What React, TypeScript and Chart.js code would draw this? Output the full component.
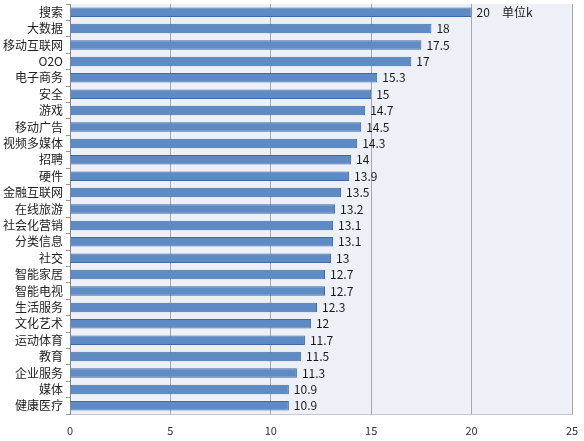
import { useEffect, useRef } from 'react';
import { Chart, registerables } from 'chart.js';

Chart.register(...registerables);

const categories = [
  '搜索', '大数据', '移动互联网', 'O2O', '电子商务', '安全', '游戏', '移动广告', '视频多媒体',
  '招聘', '硬件', '金融互联网', '在线旅游', '社会化营销', '分类信息', '社交', '智能家居',
  '智能电视', '生活服务', '文化艺术', '运动体育', '教育', '企业服务', '媒体', '健康医疗',
];
const values = [
  20, 18, 17.5, 17, 15.3, 15, 14.7, 14.5, 14.3, 14, 13.9, 13.5, 13.2, 13.1, 13.1, 13, 12.7,
  12.7, 12.3, 12, 11.7, 11.5, 11.3, 10.9, 10.9,
];
const xTicks = [0, 5, 10, 15, 20, 25];
const unitNote = '单位k';

const FONT = '"Noto Sans CJK SC", "Noto Sans", sans-serif';

// Light plot background, drawn behind the bars.
const plotBg = {
  id: 'plotBg',
  beforeDraw(chart: Chart) {
    const { ctx, chartArea } = chart;
    ctx.save();
    ctx.fillStyle = '#edf1f7';
    ctx.fillRect(chartArea.left, chartArea.top, chartArea.width, chartArea.height);
    ctx.restore();
  },
};

// Value labels at the end of each bar.
const valueLabels = {
  id: 'valueLabels',
  afterDatasetsDraw(chart: Chart) {
    const { ctx } = chart;
    const meta = chart.getDatasetMeta(0);
    ctx.save();
    ctx.font = `12px ${FONT}`;
    ctx.fillStyle = '#1a1a1a';
    ctx.textBaseline = 'middle';
    meta.data.forEach((bar: any, i: number) => {
      const text = String(values[i]);
      ctx.fillText(text, bar.x + 5, bar.y);
      if (i === 0) {
        const w = ctx.measureText(text).width;
        ctx.fillText(unitNote, bar.x + 5 + w + 12, bar.y);
      }
    });
    ctx.restore();
  },
};

export default function App() {
  const canvasRef = useRef<HTMLCanvasElement>(null);

  useEffect(() => {
    document.body.style.margin = '0';
    const canvas = canvasRef.current;
    if (!canvas) return;
    const chart = new Chart(canvas, {
      type: 'bar',
      data: {
        labels: categories,
        datasets: [
          {
            data: values,
            backgroundColor: '#5f8bc4',
            borderColor: '#3f6aa3',
            borderWidth: { top: 1, bottom: 1, right: 1, left: 0 },
            barPercentage: 0.58,
            categoryPercentage: 1,
          },
        ],
      },
      options: {
        indexAxis: 'y',
        responsive: false,
        animation: false,
        devicePixelRatio: 1,
        layout: { padding: { top: 4, right: 12, bottom: 0, left: 0 } },
        plugins: {
          legend: { display: false },
          tooltip: { enabled: false },
        },
        scales: {
          x: {
            min: 0,
            max: 25,
            afterBuildTicks: (scale: any) => {
              scale.ticks = xTicks.map((v) => ({ value: v }));
            },
            afterFit: (scale: any) => {
              scale.height = 27;
              scale.paddingLeft = 0;
              scale.paddingRight = 0;
            },
            grid: { color: '#a2a8b0', lineWidth: 1, drawTicks: false },
            border: { display: true, color: '#c4c8ce' },
            ticks: { color: '#333', font: { family: FONT, size: 11 }, padding: 10 },
          },
          y: {
            afterFit: (scale: any) => {
              scale.width = 70;
              scale.paddingTop = 0;
              scale.paddingBottom = 0;
            },
            grid: {
              offset: true,
              drawOnChartArea: false,
              tickLength: 4,
              color: '#999',
            },
            border: { display: true, color: '#888' },
            ticks: { color: '#222', font: { family: FONT, size: 12 }, padding: 3, autoSkip: false },
          },
        },
      },
      plugins: [plotBg, valueLabels],
    });
    return () => chart.destroy();
  }, []);

  return <canvas ref={canvasRef} width={584} height={441} style={{ display: 'block', background: '#fff' }} />;
}
